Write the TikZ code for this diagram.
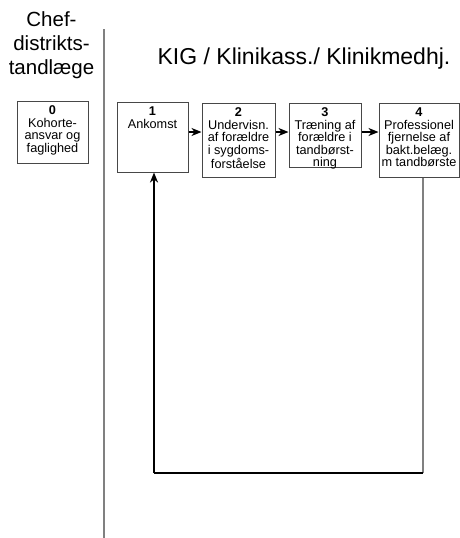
\documentclass[tikz,border=0pt]{standalone}
\usepackage{fontspec}
\setmainfont{Liberation Sans}
\usetikzlibrary{arrows.meta}
\begin{document}
\begin{tikzpicture}[x=1pt,y=1pt,
  box/.style={draw=black!72,line width=1pt,inner sep=0pt,fill=white},
  boxtext/.style={anchor=north,inner sep=0pt,align=center,font=\fontsize{12.7}{12.6}\selectfont},
  flow/.style={black,line width=1.5pt,-{Stealth[length=10pt,width=8pt,inset=3pt]}},
  back/.style={line width=1.8pt},
  divider/.style={draw=black!50,line width=1.3pt}]
\useasboundingbox (0,0) rectangle (460,-538);
% headers
\node[align=center,inner sep=0pt,font=\fontsize{20.5}{24}\selectfont] (chef) at (51.5,-45) {Chef-\\distrikts-\\tandlæge};
\node[anchor=base,inner sep=0pt,font=\fontsize{23}{27}\selectfont] (kig) at (304,-64) {KIG / Klinikass./ Klinikmedhj.};
% divider
\coordinate (dtop) at (104,-29);
\coordinate (dbot) at (104,-538);
\draw[divider] (dtop) -- (dbot);
% boxes
\node[box,minimum width=71pt,minimum height=62pt] (b0) at (52.5,-132) {};
\node[box,minimum width=71pt,minimum height=70pt] (b1) at (152.5,-137) {};
\node[box,minimum width=73pt,minimum height=74pt] (b2) at (238.5,-140) {};
\node[box,minimum width=72pt,minimum height=64pt] (b3) at (325,-135) {};
\node[box,minimum width=80pt,minimum height=74pt] (b4) at (419,-140) {};
% box texts
\node[boxtext] (t0) at ([yshift=-5pt]b0.north) {\textbf{0}\\Kohorte-\\ansvar og\\faglighed};
\node[boxtext] (t1) at ([yshift=-5pt]b1.north) {\textbf{1}\\Ankomst};
\node[boxtext] (t2) at ([yshift=-5pt]b2.north) {\textbf{2}\\Undervisn.\\af forældre\\i sygdoms-\\forståelse};
\node[boxtext] (t3) at ([yshift=-5pt]b3.north) {\textbf{3}\\Træning af\\forældre i\\tandbørst-\\ning};
\node[boxtext] (t4) at ([yshift=-5pt]b4.north) {\textbf{4}\\Professionel\\fjernelse af\\bakt.belæg.\\m tandbørste};
% flow arrows
\coordinate (ay) at (0,-132);
\draw[flow] (b1.east |- ay) -- (b2.west |- ay);
\draw[flow] (b2.east |- ay) -- (b3.west |- ay);
\draw[flow] (b3.east |- ay) -- (b4.west |- ay);
% return path
\coordinate (r1) at (423,-473);
\coordinate (r2) at (154,-473);
\draw[back,black!50] (b4.south -| r1) -- (r1);
\draw[back,black] (r1) -- (r2);
\draw[flow,line width=1.8pt] (r2) -- (b1.south -| r2);
\end{tikzpicture}
\end{document}
